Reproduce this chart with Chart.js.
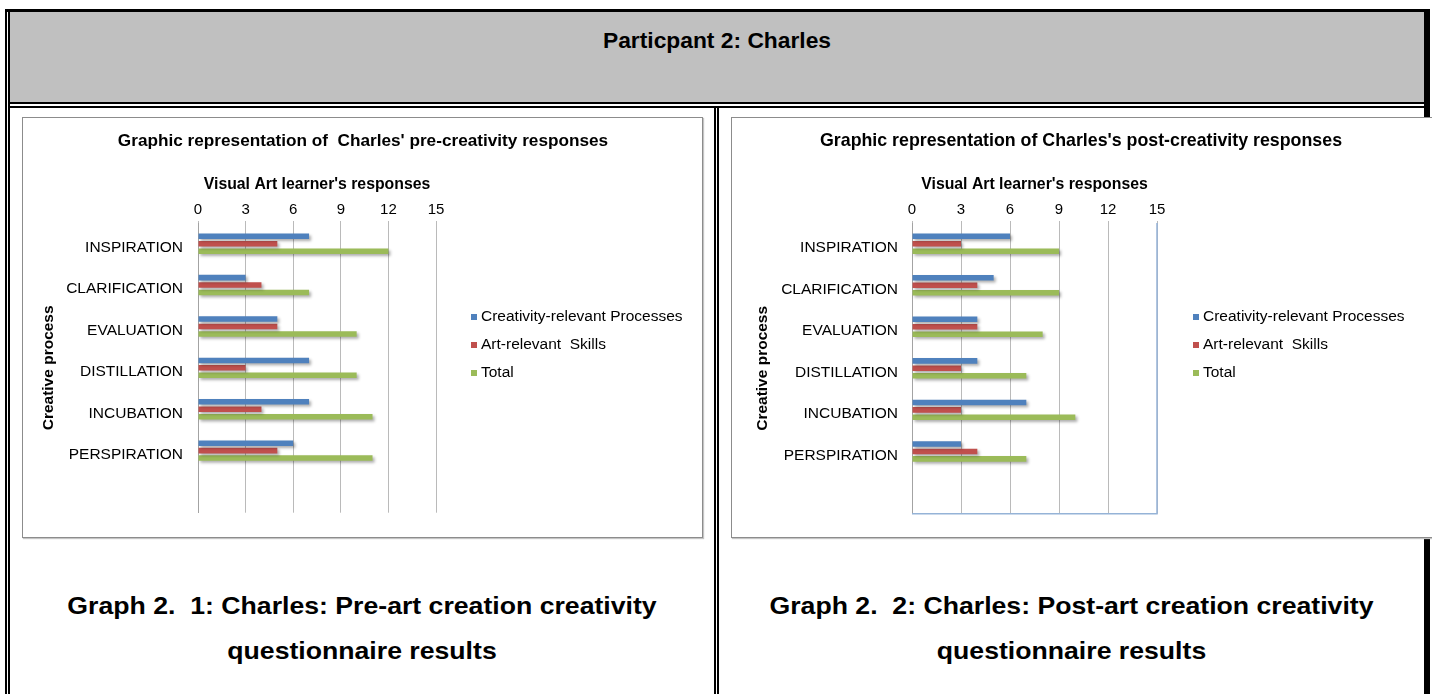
<!DOCTYPE html>
<html>
<head>
<meta charset="utf-8">
<script src="https://cdn.jsdelivr.net/npm/chart.js@4.4.1/dist/chart.umd.min.js"></script>
<style>
  html, body { margin: 0; padding: 0; background: #fff; }
  body { width: 1432px; height: 694px; position: relative; overflow: hidden;
         font-family: "Liberation Sans", Arial, sans-serif; color: #000; }
  .line { position: absolute; background: #000; }
  #header { position: absolute; left: 10px; top: 12px; width: 1414px; height: 90px; background: #c0c0c0; }
  #header div { text-align: center; font-weight: bold; font-size: 22.8px; line-height: 26px; padding-top: 15px; }
  .box { position: absolute; top: 117px; height: 419px; background: #fff;
         border: 1px solid #8c8c8c; box-shadow: 1px 1px 1px #c4c4c4; z-index: 2; }
  .box canvas { position: absolute; left: 0; top: 0; }
  .caption { position: absolute; top: 583px; text-align: center; font-weight: bold;
             font-size: 24px; line-height: 45px; white-space: pre;
             transform: scaleX(1.11); transform-origin: 50% 50%; }
</style>
</head>
<body>
  <!-- table frame -->
  <div class="line" style="left:5px;top:9px;width:1425px;height:3px"></div>
  <div class="line" style="left:5px;top:9px;width:2px;height:685px"></div>
  <div class="line" style="left:8px;top:12px;width:2px;height:682px"></div>
  <div class="line" style="left:1424px;top:9px;width:6px;height:685px"></div>
  <div id="header"><div>Particpant 2: Charles</div></div>
  <div class="line" style="left:10px;top:102px;width:1414px;height:2px"></div>
  <div class="line" style="left:10px;top:106px;width:1414px;height:2px"></div>
  <div class="line" style="left:714px;top:106px;width:2px;height:588px"></div>
  <div class="line" style="left:717px;top:106px;width:2px;height:588px"></div>

  <div class="box" style="left:22px;width:679px"><canvas id="preChart" width="679" height="419"></canvas></div>
  <div class="box" style="left:731px;width:701px;border-right:none"><canvas id="postChart" width="701" height="419"></canvas></div>

  <div class="caption" style="left:10px;width:704px">Graph 2.  1: Charles: Pre-art creation creativity
questionnaire results</div>
  <div class="caption" style="left:719px;width:705px">Graph 2.  2: Charles: Post-art creation creativity
questionnaire results</div>

<script>
// Categories (the last row is left blank on purpose, as in the source worksheet)
const categories = ['INSPIRATION', 'CLARIFICATION', 'EVALUATION', 'DISTILLATION', 'INCUBATION', 'PERSPIRATION', ''];
const seriesNames = ['Creativity-relevant Processes', 'Art-relevant  Skills', 'Total'];
const seriesColors = ['#4f81bd', '#c0504d', '#9bbb59'];

// Pre-creativity responses
const preProcesses = [7, 3, 5, 7, 7, 6];
const preSkills    = [5, 4, 5, 3, 4, 5];
const preTotal     = [12, 7, 10, 10, 11, 11];

// Post-creativity responses
const postProcesses = [6, 5, 4, 4, 7, 3];
const postSkills    = [3, 4, 4, 3, 3, 4];
const postTotal     = [9, 9, 8, 7, 10, 7];

// Value axis ticks
const valueTicks = [0, 3, 6, 9, 12, 15];

const FONT = '"Liberation Sans", Arial, sans-serif';

// Chart title, bar shadows, the side legend and the optional plot frame
const chartDecor = {
  id: 'chartDecor',
  beforeDatasetsDraw(chart) {
    const c = chart.ctx;
    c.save();
    c.shadowColor = 'rgba(0,0,0,0.32)';
    c.shadowBlur = 3;
    c.shadowOffsetX = 2;
    c.shadowOffsetY = 2;
  },
  afterDatasetsDraw(chart) {
    chart.ctx.restore();
  },
  afterDraw(chart, args, o) {
    const c = chart.ctx;
    const a = chart.chartArea;
    c.save();
    if (o.frame) {
      c.strokeStyle = '#95b3d7';
      c.lineWidth = 1.5;
      c.beginPath();
      c.moveTo(a.right, a.top);
      c.lineTo(a.right, a.bottom);
      c.lineTo(a.left, a.bottom);
      c.stroke();
    }
    c.fillStyle = '#000';
    c.textBaseline = 'middle';
    c.textAlign = 'center';
    c.font = 'bold ' + o.titleSize + 'px ' + FONT;
    c.fillText(o.title, o.titleX, o.titleY);

    c.font = '15.5px ' + FONT;
    c.textAlign = 'left';
    chart.data.datasets.forEach((ds, i) => {
      const y = o.legendY + i * o.legendGap;
      c.fillStyle = ds.backgroundColor;
      c.fillRect(o.legendX, y - 3, 6, 6);
      c.fillStyle = '#000';
      c.fillText(ds.label, o.legendX + 10, y);
    });
    c.restore();
  }
};

function buildChart(id, title, values, geo) {
  const datasets = values.map((v, i) => ({
    label: seriesNames[i],
    data: v,
    backgroundColor: seriesColors[i],
    borderWidth: 0,
    categoryPercentage: 0.54,
    barPercentage: 0.74
  }));
  return new Chart(document.getElementById(id), {
    type: 'bar',
    data: { labels: categories, datasets },
    plugins: [chartDecor],
    options: {
      indexAxis: 'y',
      responsive: false,
      animation: false,
      layout: { padding: { top: 53, left: geo.padLeft, right: geo.padRight, bottom: 21 } },
      plugins: {
        legend: { display: false },
        tooltip: { enabled: false },
        title: { display: false },
        chartDecor: {
          title: title, titleX: geo.titleX, titleY: 23.5, titleSize: geo.titleSize,
          legendX: geo.legendX, legendY: 199, legendGap: 28, frame: geo.frame
        }
      },
      scales: {
        x: {
          position: 'top',
          min: valueTicks[0],
          max: valueTicks[valueTicks.length - 1],
          afterBuildTicks(scale) { scale.ticks = valueTicks.map(v => ({ value: v })); },
          afterFit(scale) { scale.height = 52; },
          ticks: { color: '#000', padding: 2.5, font: { family: FONT, size: 15 } },
          grid: { color: '#bababa', lineWidth: 1, tickLength: 2, drawTicks: true },
          border: { display: false },
          title: {
            display: true,
            text: "Visual Art learner's responses",
            color: '#000',
            font: { family: FONT, size: 15.8, weight: 'bold', lineHeight: 1.2 },
            padding: { top: 4, bottom: 4 }
          }
        },
        y: {
          afterFit(scale) { scale.width = geo.yWidth; },
          ticks: { color: '#000', padding: geo.tickPad, labelOffset: 4, font: { family: FONT, size: 15.5 } },
          grid: { display: false, drawTicks: false },
          border: { display: true, color: '#a3a3a3', width: 1 },
          title: {
            display: true,
            text: 'Creative process',
            color: '#000',
            font: { family: FONT, size: 15.5, weight: 'bold', lineHeight: 1.2 },
            padding: { top: 4, bottom: 4 }
          }
        }
      }
    }
  });
}

buildChart('preChart', "Graphic representation of  Charles' pre-creativity responses",
  [preProcesses, preSkills, preTotal],
  { padLeft: 12, padRight: 266, yWidth: 163, tickPad: 15, legendX: 448, titleX: 340, titleSize: 17.2, frame: false });

buildChart('postChart', "Graphic representation of Charles's post-creativity responses",
  [postProcesses, postSkills, postTotal],
  { padLeft: 17, padRight: 276, yWidth: 163, tickPad: 14, legendX: 461, titleX: 349, titleSize: 17.8, frame: true });
</script>
</body>
</html>
